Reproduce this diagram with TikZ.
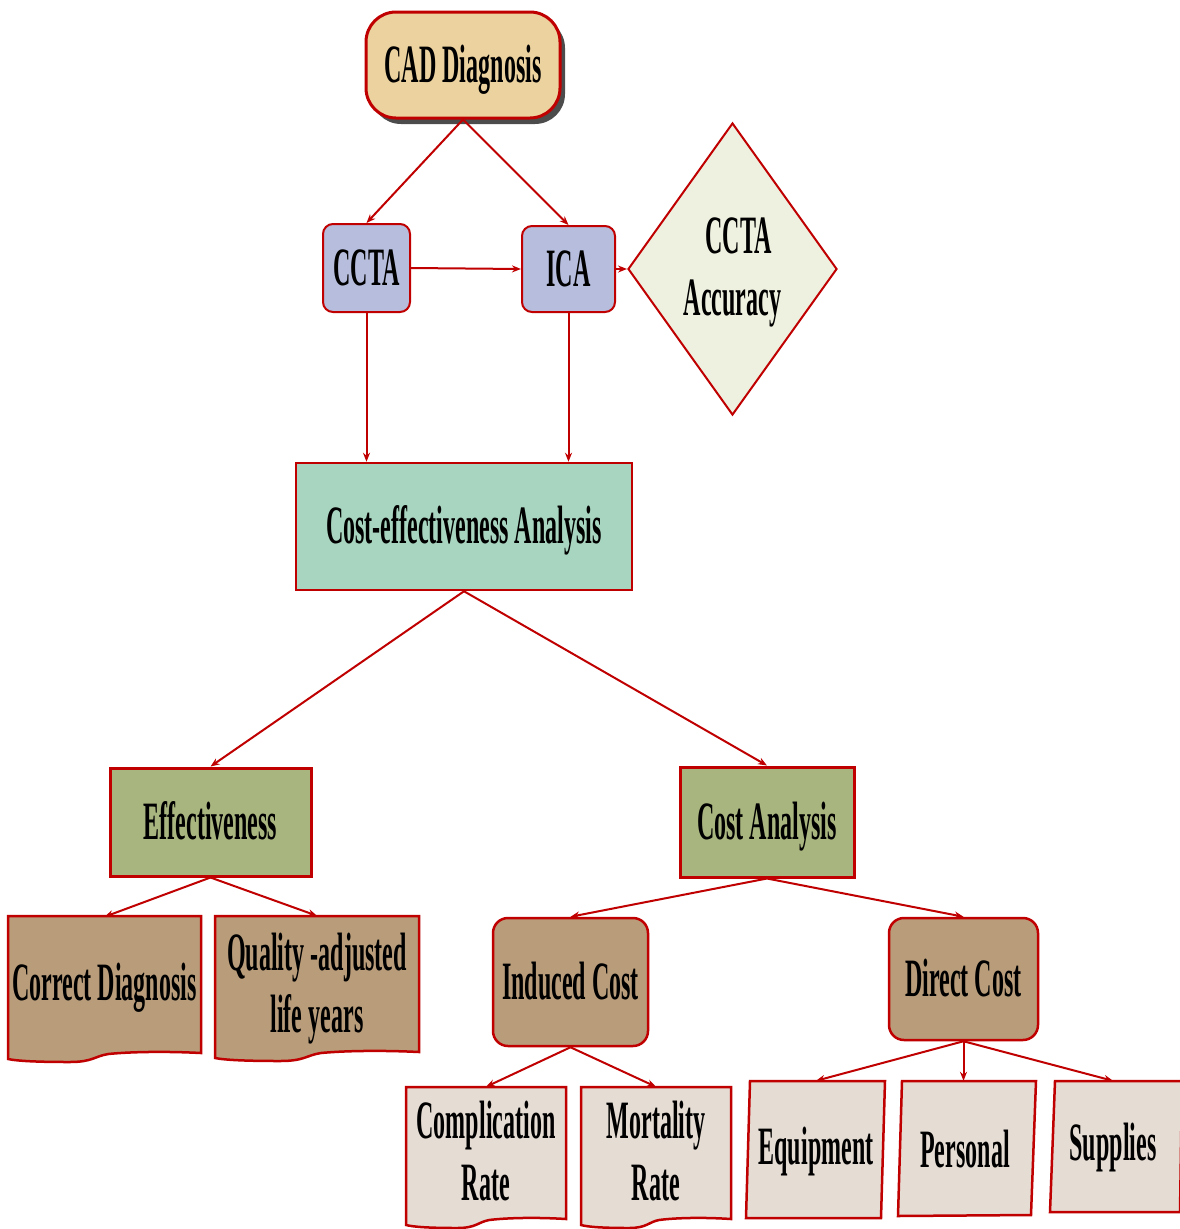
\documentclass[tikz,border=0pt]{standalone}
\usepackage{fontspec}
\newfontfamily\lblfont{Liberation Serif}[FakeStretch=0.445]
\usetikzlibrary{arrows.meta,shadows,shapes.geometric}
\definecolor{redline}{HTML}{C00000}
\definecolor{cadc}{HTML}{ECD29E}
\definecolor{bluec}{HTML}{B6BDDD}
\definecolor{diac}{HTML}{EEF1DF}
\definecolor{ceac}{HTML}{A8D5BF}
\definecolor{olivec}{HTML}{A9B57F}
\definecolor{brownc}{HTML}{B99D7B}
\definecolor{lightc}{HTML}{E5DCD3}
\newcommand\mydocpath[5]{%
  \draw[docline, fill=#1] (#2,#3) -- (#4,#3) -- (#4,#5-9)
    .. controls ({#4-0.2*(#4-#2)},#5-11) and ({#2+0.62*(#4-#2)},#5-10) .. ({#2+0.52*(#4-#2)},#5-8)
    .. controls ({#2+0.45*(#4-#2)},#5-6) and ({#2+0.44*(#4-#2)},#5) .. ({#2+0.32*(#4-#2)},#5)
    .. controls ({#2+0.15*(#4-#2)},#5) and ({#2+0.05*(#4-#2)},#5-1) .. (#2,#5-3) -- cycle;}
\begin{document}
\begin{tikzpicture}[x=1pt,y=-1pt,
  lab/.style={font=\lblfont\bfseries\fontsize{54}{62}\selectfont, align=center, text=black},
  box/.style={lab, draw=redline, line width=2.5pt, inner sep=0pt},
  oneline/.style={text height=38pt, text depth=4pt},
  docline/.style={draw=redline, line width=2.5pt},
  ghost/.style={lab, inner sep=0pt},
  arr/.style={draw=redline, line width=2pt, -{Stealth[length=9pt,width=7pt]}}]
\fill[white] (0,0) rectangle (1179,1229);
\useasboundingbox (0,0) rectangle (1179,1229);

% top
\node[box, oneline, line width=3pt, rounded corners=30pt, fill=cadc,
      drop shadow={shadow xshift=5pt, shadow yshift=-6pt, fill=black, opacity=0.7},
      minimum width=194pt, minimum height=106pt] (cad) at (463,65) {CAD Diagnosis};
\node[box, oneline, line width=2pt, rounded corners=10pt, fill=bluec,
      minimum width=87pt, minimum height=88pt] (ccta) at (366.5,268) {CCTA};
\node[box, oneline, line width=2pt, rounded corners=10pt, fill=bluec,
      minimum width=93pt, minimum height=86pt] (ica) at (568.5,269) {ICA};
\node[box, line width=2pt, shape=diamond, aspect=0.716, fill=diac,
      minimum width=209pt, minimum height=292pt] (acc) at (732.5,269) {};
\node[ghost] (acctext) at (acc.center) [yshift=-3pt] {\hspace*{12pt}CCTA\\Accuracy};

% middle
\node[box, oneline, fill=ceac, minimum width=336pt, minimum height=127pt] (cea) at (464,526.5)
      {Cost-effectiveness Analysis};
\node[box, oneline, line width=3pt, fill=olivec, minimum width=201pt, minimum height=108pt] (eff) at (210.5,822)
      {Effectiveness};
\node[box, oneline, line width=3pt, fill=olivec, minimum width=174pt, minimum height=110pt] (ca) at (767,822)
      {Cost Analysis};

% effectiveness children
\mydocpath{brownc}{8}{916}{201}{1062}
\node[ghost, minimum width=193pt, minimum height=142pt] (cd) at (104.5,988) {Correct Diagnosis};
\mydocpath{brownc}{215}{916}{419}{1061}
\node[ghost, minimum width=204pt, minimum height=146pt] (qaly) at (317,989) {Quality -adjusted\\life years};

% cost children
\node[box, oneline, line width=2.5pt, rounded corners=15pt, fill=brownc,
      minimum width=155pt, minimum height=128pt] (ind) at (570.5,982) {Induced Cost};
\node[box, oneline, line width=2.5pt, rounded corners=15pt, fill=brownc,
      minimum width=149pt, minimum height=122pt] (dir) at (963.5,979) {Direct Cost};

% induced children
\mydocpath{lightc}{406}{1087}{566}{1228}
\node[ghost, minimum width=160pt, minimum height=128pt] (comp) at (486,1151) {Complication\\Rate};
\mydocpath{lightc}{581}{1087}{731}{1228}
\node[ghost, minimum width=150pt, minimum height=128pt] (mort) at (656,1151) {Mortality\\Rate};

% direct children
\draw[docline, fill=lightc] (750,1081) -- (885,1081) -- (881,1218) -- (746,1218) -- cycle;
\node[ghost, minimum width=130pt, minimum height=140pt] (equip) at (816,1151) {Equipment};
\draw[docline, fill=lightc] (902,1081) -- (1036,1081) -- (1031,1215) -- (898,1216) -- cycle;
\node[ghost, minimum width=130pt, minimum height=136pt] (pers) at (965,1149) {Personal};
\draw[docline, fill=lightc] (1055,1081) -- (1182,1081) -- (1180,1212) -- (1050,1212) -- cycle;
\node[ghost, minimum width=120pt, minimum height=132pt] (supp) at (1113,1147) {Supplies};

% connectors
\draw[arr] (cad.south) -- (ccta.north);
\draw[arr] (cad.south) -- (ica.north);
\draw[arr] (ccta.east) -- (ica.west);
\draw[arr] (ica.east) -- (acc.west);
\draw[arr] (ccta.south) -- (ccta.south |- cea.north);
\draw[arr] (ica.south) -- (ica.south |- cea.north);
\draw[arr] (cea.south) -- (eff.north);
\draw[arr] (cea.south) -- (ca.north);
\draw[arr] (eff.south) -- (cd.north);
\draw[arr] (eff.south) -- (qaly.north);
\draw[arr] (ca.south) -- (ind.north);
\draw[arr] (ca.south) -- (dir.north);
\draw[arr] (ind.south) -- (comp.north);
\draw[arr] (ind.south) -- (mort.north);
\draw[arr] (dir.south) -- (equip.north);
\draw[arr] (dir.south) -- (dir.south |- pers.north);
\draw[arr] (dir.south) -- (supp.north);
\end{tikzpicture}
\end{document}
